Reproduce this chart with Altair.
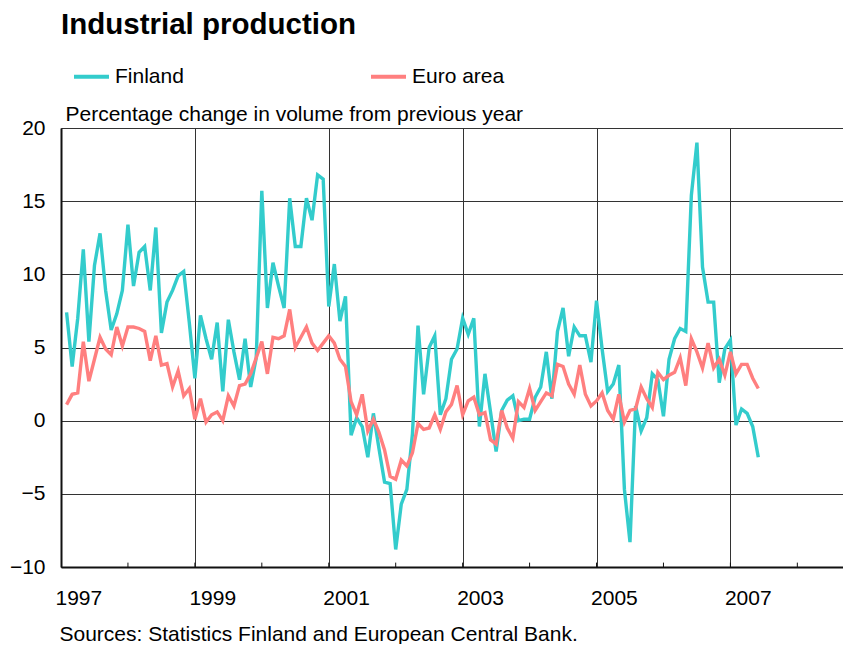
import altair as alt
import pandas as pd

# Monthly observations, January 1997 - May 2007
years = list(range(1997, 2008))
finland = [
    7.4, 3.7, 7.0, 11.7, 5.4, 10.6, 12.8, 8.9, 6.2, 7.3, 8.9, 13.4,
    9.2, 11.5, 11.9, 8.9, 13.2, 6.0, 8.1, 8.9, 9.9, 10.2, 6.7, 2.9,
    7.2, 5.6, 4.2, 6.7, 2.0, 6.9, 4.7, 2.8, 5.6, 2.3, 4.3, 15.7,
    7.7, 10.8, 9.2, 7.7, 15.2, 11.9, 11.9, 15.2, 13.7, 16.8, 16.5, 7.8,
    10.7, 6.8, 8.5, -1.0, 0.2, -0.4, -2.5, 0.5, -1.9, -4.2, -4.3, -8.8,
    -5.7, -4.7, -0.9, 6.5, 1.8, 5.0, 5.8, 0.4, 1.5, 4.2, 4.9, 7.0,
    5.9, 7.0, -0.4, 3.2, 0.6, -2.1, 0.7, 1.4, 1.7, 0.0, 0.1, 0.1,
    1.6, 2.3, 4.7, 1.5, 6.1, 7.7, 4.4, 6.4, 5.8, 5.8, 4.0, 8.2,
    4.9, 2.0, 2.5, 3.8, -4.7, -8.3, 1.0, -0.7, 0.2, 3.2, 2.8, 0.3,
    4.2, 5.6, 6.3, 6.1, 15.4, 19.0, 10.5, 8.1, 8.1, 2.6, 4.9, 5.5,
    -0.3, 0.8, 0.5, -0.4, -2.5,
]
euro_area = [
    1.1, 1.8, 1.9, 5.4, 2.7, 4.2, 5.7, 4.9, 4.5, 6.4, 5.1, 6.4,
    6.4, 6.3, 6.1, 4.1, 5.8, 3.8, 3.9, 2.3, 3.4, 1.7, 2.2, 0.1,
    1.5, -0.1, 0.4, 0.6, 0.0, 1.7, 1.0, 2.4, 2.5, 3.2, 4.3, 5.4,
    3.2, 5.7, 5.6, 5.8, 7.6, 5.0, 5.7, 6.4, 5.3, 4.8, 5.3, 5.8,
    5.3, 4.2, 3.7, 1.3, 0.4, 1.8, -0.7, 0.1, -0.8, -2.0, -3.8, -4.0,
    -2.7, -3.1, -2.2, -0.2, -0.6, -0.5, 0.4, -0.6, 0.6, 1.1, 2.4, 0.4,
    1.35, 1.6, 0.4, 0.55, -1.3, -1.6, 0.7, -0.5, -1.2, 1.3, 0.9, 2.2,
    0.7, 1.3, 1.9, 1.7, 3.85, 3.7, 2.5, 1.8, 3.8, 1.8, 1.0, 1.35,
    1.9, 0.7, 0.1, 1.8, -0.1, 0.7, 0.8, 2.3, 1.5, 0.9, 3.3, 2.8,
    3.1, 3.3, 4.3, 2.4, 5.6, 4.7, 3.6, 5.3, 3.6, 4.2, 3.1, 4.7,
    3.2, 3.85, 3.85, 2.9, 2.2,
]
series_names = ["Finland", "Euro area"]
series_colors = ["#33CCCC", "#FF7F7F"]
x_labels = [1997, 1999, 2001, 2003, 2005, 2007]
minor_years = list(range(1998, 2009))
y_ticks = [-10, -5, 0, 5, 10, 15, 20]

months = [(y, m) for y in years for m in range(1, 13)][: len(finland)]
t_vals = [y + m / 12 for (y, m) in months]
labels = [f"{y}-{m:02d}" for (y, m) in months]

df_fin = pd.DataFrame({"t": t_vals, "month": labels, "value": finland, "series": "Finland"})
df_euro = pd.DataFrame({"t": t_vals, "month": labels, "value": euro_area, "series": "Euro area"})
df_minor = pd.DataFrame({"t": minor_years})

FONT = "Liberation Sans"
X_END = 1997 + 782 / 66.94

x_enc = alt.X(
    "t:Q",
    scale=alt.Scale(domain=[1997, X_END], nice=False, zero=False),
    axis=alt.Axis(
        values=x_labels,
        format="d",
        grid=True,
        gridColor="#333333",
        gridWidth=1,
        ticks=False,
        domain=True,
        domainColor="#111111",
        domainWidth=2,
        labelFont=FONT,
        labelFontSize=21,
        labelColor="black",
        labelAlign="left",
        labelBaseline="alphabetic",
        labelOffset=-6,
        labelPadding=37,
        labelFlush=False,
        labelOverlap=False,
        title="Sources: Statistics Finland and European Central Bank.",
        titleFont=FONT,
        titleFontSize=21,
        titleFontWeight="normal",
        titleColor="black",
        titleAnchor="start",
        titleAlign="left",
        titleBaseline="alphabetic",
        titleX=-2,
        titleY=73,
    ),
)
y_enc = alt.Y(
    "value:Q",
    scale=alt.Scale(domain=[-10, 20], nice=False, zero=False),
    axis=alt.Axis(
        values=y_ticks,
        grid=True,
        gridColor="#333333",
        gridWidth=1,
        ticks=False,
        domain=True,
        domainColor="#111111",
        domainWidth=2,
        labelFont=FONT,
        labelFontSize=21,
        labelColor="black",
        labelPadding=16,
        labelFlush=False,
        labelOverlap=False,
        title="Percentage change in volume from previous year",
        titleFont=FONT,
        titleFontSize=21,
        titleFontWeight="normal",
        titleColor="black",
        titleAngle=0,
        titleAlign="left",
        titleBaseline="alphabetic",
        titleX=4,
        titleY=-8,
    ),
)
color_enc = alt.Color(
    "series:N",
    scale=alt.Scale(domain=series_names, range=series_colors),
    legend=alt.Legend(
        title=None,
        orient="none",
        legendX=11,
        legendY=-71,
        direction="horizontal",
        symbolType="stroke",
        symbolSize=1225,
        symbolStrokeWidth=4,
        labelFont=FONT,
        labelFontSize=21,
        labelColor="black",
        labelOffset=4,
        columnPadding=179,
        padding=0,
    ),
)

line_fin = alt.Chart(df_fin).mark_line(strokeWidth=3.4).encode(x=x_enc, y=y_enc, color=color_enc)
line_euro = alt.Chart(df_euro).mark_line(strokeWidth=3.4).encode(x=x_enc, y=y_enc, color=color_enc)
minor = alt.Chart(df_minor).mark_rule(color="#111111", strokeWidth=1).encode(
    x="t:Q", y=alt.datum(-10), y2=alt.datum(-9.7)
)

chart = (
    alt.layer(minor, line_fin, line_euro)
    .properties(
        width=782,
        height=439,
        autosize=alt.AutoSizeParams(type="none"),
        padding={"left": 53, "top": 120, "right": 0, "bottom": 77},
        title=alt.TitleParams(
            "Industrial production",
            anchor="start",
            frame="group",
            font=FONT,
            fontSize=29.5,
            fontWeight="bold",
            color="black",
            baseline="alphabetic",
            offset=-6,
        ),
    )
    .configure_view(stroke=None)
    .configure(background="white")
)

chart.save("out.html", embed_options={"renderer": "svg", "actions": False})
